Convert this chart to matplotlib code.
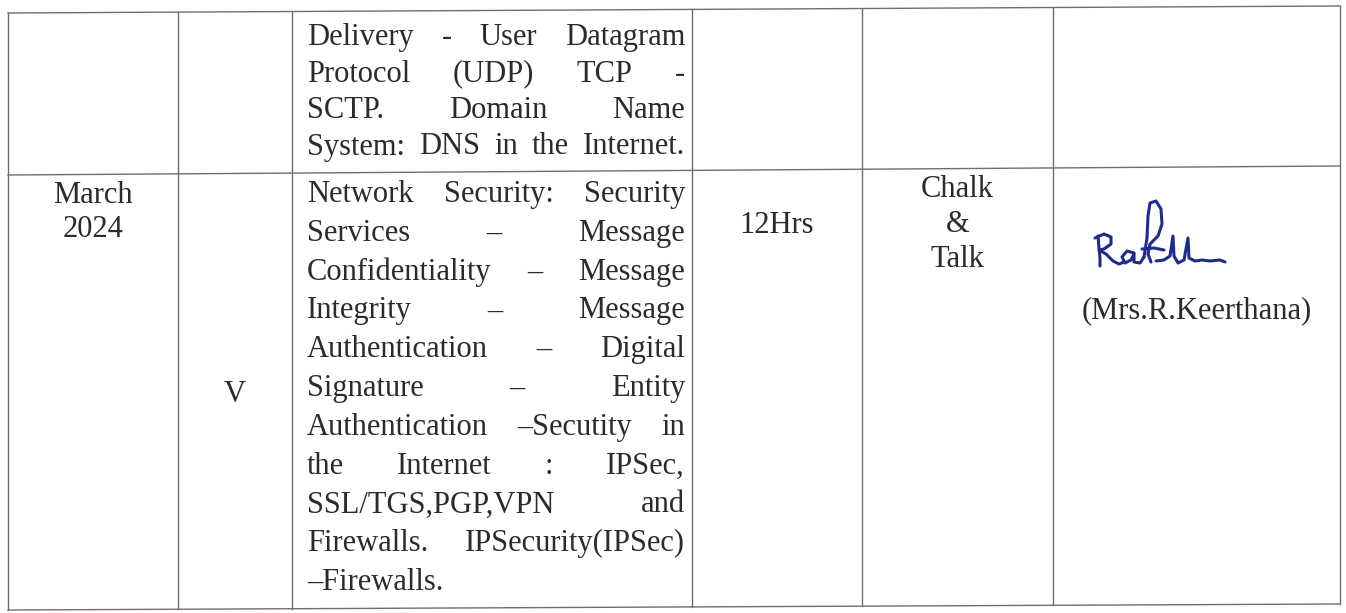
import matplotlib.pyplot as plt

W, H = 1346, 613

# table grid (pixels); rows lean a little, like the scan
col_edges = [8, 178, 292, 692, 862, 1053, 1340]
row_left = [13, 175, 610]
row_right = [6, 166, 604]

month = ['March', '2024']
unit = 'V'
hours = '12Hrs'
method = ['Chalk', '&', 'Talk']
staff = '(Mrs.R.Keerthana)'

topics_prev = [
    'Delivery - User Datagram',
    'Protocol (UDP) TCP -',
    'SCTP. Domain Name',
    'System: DNS in the Internet.',
]
topics_unit = [
    'Network Security: Security',
    'Services \u2013 Message',
    'Confidentiality \u2013 Message',
    'Integrity \u2013 Message',
    'Authentication \u2013 Digital',
    'Signature \u2013 Entity',
    'Authentication \u2013Secutity in',
    'the Internet : IPSec,',
    'SSL/TGS,PGP,VPN and',
    'Firewalls. IPSecurity(IPSec)',
    '\u2013Firewalls.',
]

# signature strokes, offsets from its start point
sig_strokes = [
    [(0, -30), (1, -18), (2, -8), (2, 0)],
    [(-3, -28), (6, -32), (13, -29), (13, -22), (6, -17), (1, -16),
     (8, -12), (15, -5), (21, -2), (26, -4)],
    [(36, -13), (29, -15), (24, -9), (27, -3), (33, -6), (36, -12),
     (36, -4), (42, -3), (46, -9)],
    [(46, -9), (49, -28), (50, -50), (52, -63), (58, -65), (63, -57),
     (64, -42), (60, -30), (52, -22), (50, -12), (53, -4)],
    [(44, -17), (56, -18), (66, -16)],
    [(58, -5), (66, -6), (72, -10), (75, -30), (76, -10), (80, -3),
     (86, -6), (90, -28), (91, -8), (97, -5), (104, -6), (112, -5),
     (122, -6), (127, -4)],
]

ink = '#2b2b2b'
grid = '#77696e'
pen = '#1f2c8f'
fs = 22

fig = plt.figure(figsize=(W / 100, H / 100), dpi=100)
ax = fig.add_axes([0, 0, 1, 1])
ax.set_xlim(0, W)
ax.set_ylim(H, 0)
ax.axis('off')

for yl, yr in zip(row_left, row_right):
    ax.plot([col_edges[0], col_edges[-1]], [yl, yr], color=grid, lw=1.0)
for x in col_edges:
    frac = (x - col_edges[0]) / (col_edges[-1] - col_edges[0])
    y0 = row_left[0] + (row_right[0] - row_left[0]) * frac
    y1 = row_left[-1] + (row_right[-1] - row_left[-1]) * frac
    ax.plot([x, x], [y0, y1], color=grid, lw=1.0)

style = dict(fontsize=fs, family='Liberation Serif', color=ink,
             va='baseline')
renderer = fig.canvas.get_renderer()


def justify(line, y, x0, x1, last=False):
    words = line.split(' ')
    arts = [ax.text(0, y, w, ha='left', **style) for w in words]
    widths = [a.get_window_extent(renderer).width for a in arts]
    if last or len(words) == 1:
        gap = fs * 0.25 * 100 / 72
    else:
        gap = (x1 - x0 - sum(widths)) / (len(words) - 1)
    x = x0
    for a, w in zip(arts, widths):
        a.set_x(x)
        x += w + gap


tx0, tx1 = 307, 685
for i, line in enumerate(topics_prev):
    justify(line, 45 + 36.5 * i, tx0, tx1)
for i, line in enumerate(topics_unit):
    justify(line, 202 + 38.8 * i, tx0, tx1,
            last=(i == len(topics_unit) - 1))


def mid(c):
    return (col_edges[c] + col_edges[c + 1]) / 2


for i, t in enumerate(month):
    ax.text(mid(0), 203 + 34 * i, t, ha='center', **style)
ax.text(mid(1), 402, unit, ha='center', **style)
ax.text(mid(3), 233, hours, ha='center', **style)
for i, t in enumerate(method):
    ax.text(mid(4), 197 + 35 * i, t, ha='center', **style)
ax.text(mid(5), 318, staff, ha='center', **style)

sx, sy = 1098, 266
for stroke in sig_strokes:
    ax.plot([sx + p[0] for p in stroke], [sy + p[1] for p in stroke],
            color=pen, lw=2.2, solid_joinstyle='round',
            solid_capstyle='round')

plt.savefig('out.png', dpi=100)
